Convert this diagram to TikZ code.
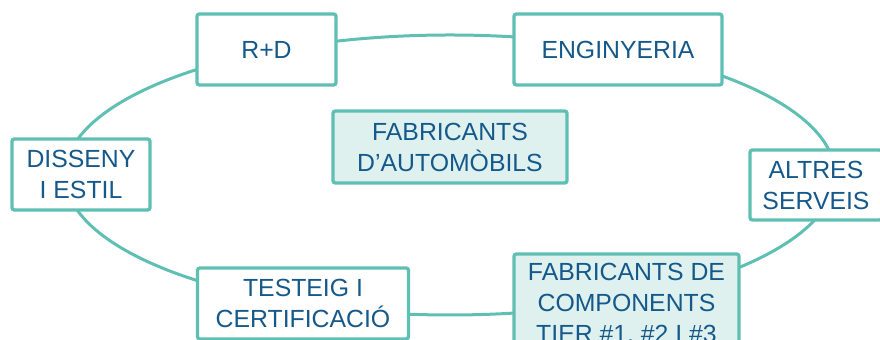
\documentclass[tikz,border=0pt]{standalone}
\usepackage{fontspec}
\setmainfont{Liberation Sans}
\usepackage{tikz}
\usetikzlibrary{positioning}
\definecolor{ringteal}{HTML}{5FBFB3}
\definecolor{labelblue}{HTML}{15598A}
\definecolor{corefill}{HTML}{DFF1EF}

\begin{document}
\begin{tikzpicture}[
  x=0.5pt, y=-0.5pt,
  box/.style={draw=ringteal, line width=1.65pt, rounded corners=1.2pt, fill=white, align=center,
    font=\fontsize{12.4}{15.5}\selectfont, text=labelblue, inner sep=0pt},
  corebox/.style={box, fill=corefill},
  ring/.style={draw=ringteal, line width=1.5pt}
]
\useasboundingbox (0,0) rectangle (880,340);
\coordinate (ringc) at (450,175);
\draw[ring] (ringc) ellipse [x radius=385pt/2, y radius=140pt/2];
\node[box, minimum width=69.5pt, minimum height=35.5pt] (rd) at (266.5,49.5) {R+D};
\node[box, minimum width=104pt, minimum height=35.5pt] (eng) at (618,49.5) {ENGINYERIA};
\node[box, minimum width=69pt, minimum height=35.5pt] (disseny) at (81,174.5) {DISSENY\\I ESTIL};
\node[box, minimum width=66pt, minimum height=35pt] (altres) at (816,185) {ALTRES\\SERVEIS};
\node[box, minimum width=105.5pt, minimum height=35.5pt] (testeig) at (303,303.5) {TESTEIG I\\CERTIFICACIÓ};
\node[corebox, minimum width=112.5pt, minimum height=50pt] (tier) at (626.5,304) {FABRICANTS DE\\COMPONENTS\\TIER \#1, \#2 I \#3};
\node[corebox, minimum width=117pt, minimum height=36pt] (oem) at (450,147) {FABRICANTS\\D’AUTOMÒBILS};
\end{tikzpicture}
\end{document}
